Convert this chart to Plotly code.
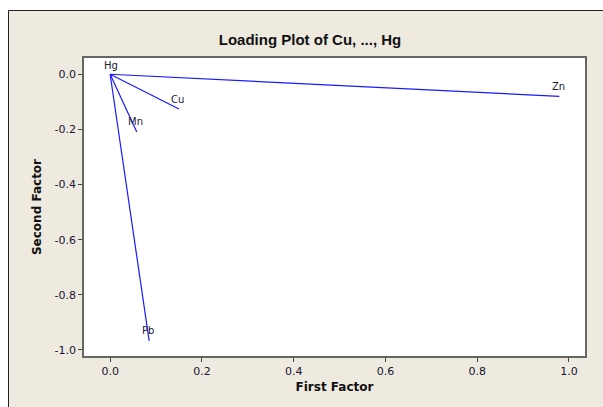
import plotly.graph_objects as go

variables = ["Cu", "Mn", "Pb", "Zn", "Hg"]
first_factor = [0.150, 0.058, 0.085, 0.979, 0.004]
second_factor = [-0.126, -0.209, -0.967, -0.080, -0.005]

x_ticks = [0.0, 0.2, 0.4, 0.6, 0.8, 1.0]
y_ticks = [0.0, -0.2, -0.4, -0.6, -0.8, -1.0]

W, H = 603, 407
L, R, T, B = 84, 18, 58, 51
pw, ph = W - L - R, H - T - B

def px_x(p):
    return (p - L) / pw

def px_y(p):
    return (H - B - p) / ph

lx, ly = [], []
for a, b in zip(first_factor, second_factor):
    lx += [0, a, None]
    ly += [0, b, None]

fig = go.Figure()
fig.add_trace(go.Scatter(x=lx, y=ly, mode="lines",
                         line=dict(color="#1a1aff", width=1.2),
                         hoverinfo="skip", showlegend=False))

annotations = [
    dict(x=a, y=b, text=v, showarrow=False, xanchor="center", yanchor="middle", yshift=10, xshift=-1,
         font=dict(family="DejaVu Sans", size=10, color="#202038"))
    for v, a, b in zip(variables, first_factor, second_factor)
]

beige = "#EEEAE0"
shapes = [
    dict(type="rect", xref="paper", yref="paper", x0=px_x(-5), x1=px_x(8), y0=px_y(420), y1=px_y(-5),
         fillcolor="white", line=dict(width=0), layer="below"),
    dict(type="rect", xref="paper", yref="paper", x0=px_x(-5), x1=px_x(610), y0=px_y(10), y1=px_y(-5),
         fillcolor="white", line=dict(width=0), layer="below"),
    dict(type="line", xref="paper", yref="paper", x0=px_x(8.5), x1=px_x(8.5), y0=px_y(10.5), y1=px_y(410),
         line=dict(color="#222222", width=1), layer="below"),
    dict(type="line", xref="paper", yref="paper", x0=px_x(8.5), x1=px_x(610), y0=px_y(10.5), y1=px_y(10.5),
         line=dict(color="#222222", width=1), layer="below"),
]

fig.update_layout(
    width=W, height=H,
    margin=dict(l=L, r=R, t=T, b=B),
    paper_bgcolor=beige, plot_bgcolor="white",
    shapes=shapes,
    annotations=annotations,
    title=dict(text="<b>Loading Plot of Cu, ..., Hg</b>", x=310 / W, xanchor="center",
               y=1 - 40 / H, yanchor="middle",
               font=dict(family="Liberation Sans", size=15, color="#111111")),
    font=dict(family="DejaVu Sans", size=11, color="#151530"),
)
fig.update_xaxes(range=[-0.057, 1.035], tickvals=x_ticks, ticktext=[f"{v:.1f}" for v in x_ticks],
                 ticks="outside", ticklen=4, tickcolor="#444", showgrid=False, zeroline=False,
                 showline=True, linecolor="#666", linewidth=1.5, mirror=True,
                 title=dict(text="<b>First Factor</b>", font=dict(family="DejaVu Sans", size=12, color="#111"),
                            standoff=6))
fig.update_yaxes(range=[-1.022, 0.059], tickvals=y_ticks, ticktext=[f"{v:.1f}" for v in y_ticks],
                 ticks="outside", ticklen=4, tickcolor="#444", showgrid=False, zeroline=False,
                 showline=True, linecolor="#666", linewidth=1.5, mirror=True,
                 title=dict(text="<b>Second Factor</b>", font=dict(family="DejaVu Sans", size=12, color="#111"),
                            standoff=10))

fig.write_html("out.html")
